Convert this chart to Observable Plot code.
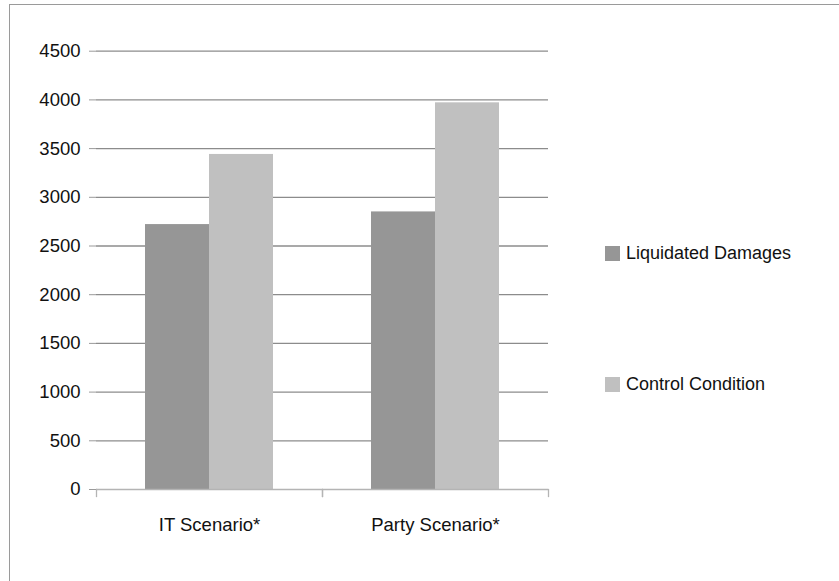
<!DOCTYPE html>
<html>
<head>
<meta charset="utf-8">
<script src="https://cdn.jsdelivr.net/npm/d3@7"></script>
<script src="https://cdn.jsdelivr.net/npm/@observablehq/plot@0.6"></script>
<style>
  html, body { margin: 0; padding: 0; background: #fff; overflow: hidden; }
  body { width: 839px; height: 581px; position: relative; font-family: "Liberation Sans", Arial, sans-serif; }
  #border { position: absolute; left: 9px; top: 4px; width: 900px; height: 700px; border: 1.5px solid #9a9a9a; box-sizing: border-box; }
  #chart { position: absolute; left: 0; top: 0; }
  #legend { position: absolute; left: 605px; top: 0; font-size: 18px; color: #111; }
  .item { position: absolute; left: 0; white-space: nowrap; display: flex; align-items: center; }
  .sw { width: 15px; height: 15px; margin-right: 6px; flex: none; }
</style>
</head>
<body>
<div id="border"></div>
<div id="chart"></div>
<div id="legend"></div>
<script>
const scenarios = ["IT Scenario*", "Party Scenario*"];
const seriesNames = ["Liquidated Damages", "Control Condition"];
const liquidatedDamages = [2720, 2850];
const controlCondition = [3440, 3970];
const yTicks = [0, 500, 1000, 1500, 2000, 2500, 3000, 3500, 4000, 4500];
const seriesColors = ["#969696", "#c0c0c0"];

const rows = [];
scenarios.forEach((s, i) => {
  rows.push({scenario: s, series: seriesNames[0], value: liquidatedDamages[i]});
  rows.push({scenario: s, series: seriesNames[1], value: controlCondition[i]});
});

const W = 560, H = 545, mTop = 50.7, mBottom = 56, mLeft = 95, mRight = 12;
const innerH = H - mTop - mBottom;

const chart = Plot.plot({
  width: W,
  height: H,
  marginTop: mTop,
  marginBottom: mBottom,
  marginLeft: mLeft,
  marginRight: mRight,
  style: {fontFamily: "'Liberation Sans', Arial, sans-serif", fontSize: "18.5px", color: "#111", background: "transparent"},
  fx: {domain: scenarios, paddingInner: 0, paddingOuter: 0, label: null, axis: null},
  x: {domain: seriesNames, paddingInner: 0, paddingOuter: 0.742, axis: null},
  y: {domain: [0, 4500], label: null, axis: null},
  color: {domain: seriesNames, range: seriesColors},
  marks: [
    Plot.ruleY(yTicks.filter(d => d > 0), {y: d => d, stroke: "#8c8c8c", strokeWidth: 1.3}),
    Plot.barY(rows, {fx: "scenario", x: "series", y: "value", fill: "series"}),
    Plot.ruleY([0], {stroke: "#b4b4b4", strokeWidth: 1.5}),
    Plot.frame({anchor: "left", insetTop: innerH, insetBottom: -7, stroke: "#b4b4b4", strokeWidth: 1.3}),
    Plot.frame({anchor: "right", insetTop: innerH, insetBottom: -7, stroke: "#b4b4b4", strokeWidth: 1.3}),
    Plot.axisY({ticks: yTicks, tickSize: 7, tickPadding: 9, tickFormat: d => String(d), stroke: "#9a9a9a", fill: "#111", label: null, line: true}),
    Plot.axisFx({anchor: "bottom", tickSize: 0, tickPadding: 28, label: null, fill: "#111"})
  ]
});
document.getElementById("chart").appendChild(chart);

const legend = document.getElementById("legend");
const legendTops = [245, 376];
seriesNames.forEach((name, i) => {
  const item = document.createElement("div");
  item.className = "item";
  item.style.top = (legendTops[i] - 2) + "px";
  const sw = document.createElement("span");
  sw.className = "sw";
  sw.style.background = seriesColors[i];
  const tx = document.createElement("span");
  tx.textContent = name;
  item.appendChild(sw);
  item.appendChild(tx);
  legend.appendChild(item);
});
</script>
</body>
</html>
